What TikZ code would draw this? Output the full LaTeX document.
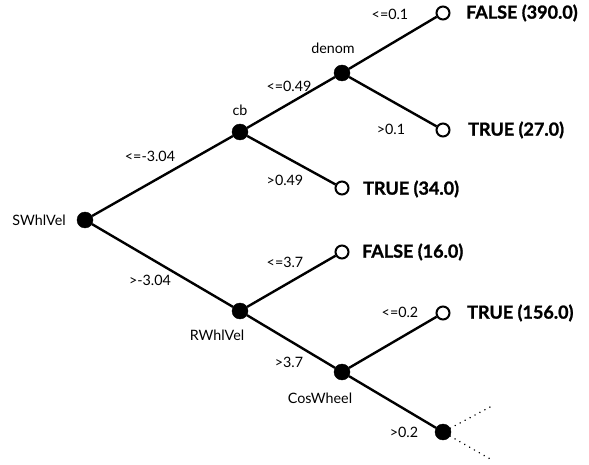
\documentclass[tikz,border=0pt]{standalone}
\usepackage{fontspec}
\setmainfont{Lato}[BoldFeatures={FakeBold=1.2}]
\begin{document}
\begin{tikzpicture}[x=1pt,y=-1pt,
  inner/.style={circle,fill=black,draw=black,minimum size=16pt,inner sep=0pt},
  leaf/.style={circle,fill=white,draw=black,line width=2pt,minimum size=13pt,inner sep=0pt},
  branch/.style={line width=2.4pt},
  cut/.style={line width=1.6pt,dash pattern=on 0.1pt off 5.5pt,line cap=round},
  lbl/.style={font=\fontsize{14.3}{17}\selectfont,inner sep=0pt},
  cls/.style={font=\fontsize{18}{21}\selectfont\bfseries,inner sep=0pt,anchor=west}]
\useasboundingbox (0,0) rectangle (589,465);
% tree nodes
\node[inner] (sw) at (85,220) {};
\node[inner] (cb) at (240,132) {};
\node[inner] (de) at (342,73) {};
\node[leaf]  (l1) at (443,13) {};
\node[leaf]  (l2) at (443,130) {};
\node[leaf]  (l3) at (342,188) {};
\node[inner] (rw) at (240,311) {};
\node[leaf]  (l4) at (342,252) {};
\node[inner] (cw) at (342,372) {};
\node[leaf]  (l5) at (443,313) {};
\node[inner] (bt) at (443,432) {};
\coordinate (d1) at (492,406);
\coordinate (d2) at (492,460);
% branches
\draw[branch] (sw) -- (cb);
\draw[branch] (sw) -- (rw);
\draw[branch] (cb) -- (de);
\draw[branch] (cb) -- (l3);
\draw[branch] (de) -- (l1);
\draw[branch] (de) -- (l2);
\draw[branch] (rw) -- (l4);
\draw[branch] (rw) -- (cw);
\draw[branch] (cw) -- (l5);
\draw[branch] (cw) -- (bt);
\draw[cut] (bt) -- (d1);
\draw[cut] (bt) -- (d2);
% attribute names
\node[lbl] (tsw) at (39,220) {SWhlVel};
\node[lbl] (tcb) at (240,110) {cb};
\node[lbl] (tde) at (333,48) {denom};
\node[lbl] (trw) at (217,335) {RWhlVel};
\node[lbl] (tcw) at (320,398) {CosWheel};
% split conditions
\node[lbl] (e1) at (150,156) {<=-3.04};
\node[lbl] (e2) at (150,280) {>-3.04};
\node[lbl] (e3) at (289,86) {<=0.49};
\node[lbl] (e4) at (285,180) {>0.49};
\node[lbl] (e5) at (390,14) {<=0.1};
\node[lbl] (e6) at (391,129) {>0.1};
\node[lbl] (e7) at (285,262) {<=3.7};
\node[lbl] (e8) at (289,362) {>3.7};
\node[lbl] (e9) at (400,312) {<=0.2};
\node[lbl] (e10) at (404,432) {>0.2};
% class labels
\node[cls] (c1) at (466,13) {FALSE (390.0)};
\node[cls] (c2) at (468,130) {TRUE (27.0)};
\node[cls] (c3) at (363,189) {TRUE (34.0)};
\node[cls] (c4) at (362,252) {FALSE (16.0)};
\node[cls] (c5) at (467,313) {TRUE (156.0)};
\end{tikzpicture}
\end{document}
